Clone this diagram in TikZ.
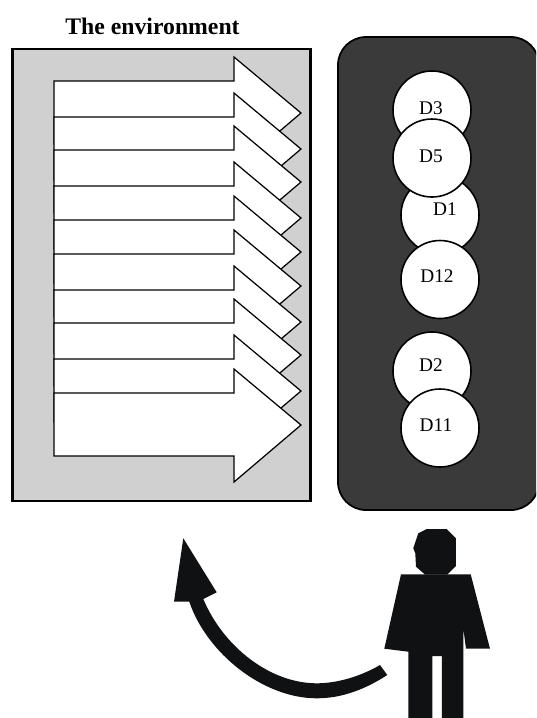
\documentclass[tikz,border=0pt]{standalone}
\usepackage{fontspec}
\setmainfont{Liberation Serif}
\definecolor{envgray}{HTML}{D0D0D0}
\definecolor{paneldark}{HTML}{3A3A3A}
\definecolor{figblack}{HTML}{101112}
\tikzset{
    disc/.style={circle,draw=black,fill=white,line width=0.45pt,minimum size=0.78cm,inner sep=0pt},
    disclabel/.style={inner sep=0pt,font=\fontsize{5.5}{6}\selectfont},
    envarrow/.style={draw=black,fill=white,line width=0.35pt,line join=miter}
}
\begin{document}
\begin{tikzpicture}[x=1cm,y=-1cm]
    \useasboundingbox (0,0) rectangle (5.36,7.18);

    \node[font=\fontsize{6.75}{7}\selectfont\bfseries,inner sep=0pt] (title) at (1.525,0.26) {The environment};
    \draw[fill=envgray,line width=0.6pt] (0.125,0.49) rectangle (3.105,5.01);

    % arrows, top one first
    \foreach \y in {1.13,1.49,1.82,2.18,2.52,2.86,3.22,3.55,3.91,4.25}
        \draw[envarrow] (0.54,\y-0.32) -- (2.34,\y-0.32) -- (2.34,\y-0.56) -- (3.01,\y)
            -- (2.34,\y+0.57) -- (2.34,\y+0.31) -- (0.54,\y+0.31) -- cycle;

    \begin{scope}
        \clip (0,0) rectangle (5.36,7.18);
        \draw[fill=paneldark,line width=0.5pt,rounded corners=0.28cm] (3.38,0.37) rectangle (5.39,5.10);
    \end{scope}

    \node[disc] (d1) at (4.40,2.15) {};
    \node[disc] (d3) at (4.32,1.10) {};
    \node[disc] (d5) at (4.32,1.58) {};
    \node[disc] (d12) at (4.40,2.795) {};
    \node[disc] (d2) at (4.32,3.71) {};
    \node[disc] (d11) at (4.40,4.28) {};

    \node[disclabel] at (4.45,2.09) {D1};
    \node[disclabel] at (4.31,1.08) {D3};
    \node[disclabel] at (4.31,1.56) {D5};
    \node[disclabel] at (4.37,2.76) {D12};
    \node[disclabel] at (4.31,3.65) {D2};
    \node[disclabel] at (4.36,4.25) {D11};

    % person
    \fill[figblack] (4.183,5.333) -- (4.267,5.29) -- (4.467,5.29) -- (4.56,5.383) -- (4.56,5.66)
        -- (4.473,5.745) -- (4.25,5.745) -- (4.16,5.667) -- (4.153,5.533) -- (4.133,5.483) -- cycle;
    \fill[figblack] (4.01,5.743) -- (4.707,5.743) -- (4.90,6.487) -- (4.66,6.487) -- (4.633,6.283)
        -- (4.633,7.18) -- (4.42,7.18) -- (4.42,6.56) -- (4.323,6.56) -- (4.323,7.18)
        -- (4.083,7.18) -- (4.083,6.517) -- (3.843,6.487) -- cycle;

    % curved arrow
    \fill[figblack] (1.833,5.383) -- (2.167,5.923) -- (2.033,5.99)
        .. controls (2.233,6.467) and (2.70,6.833) .. (3.167,6.833)
        .. controls (3.367,6.833) and (3.60,6.767) .. (3.80,6.65)
        -- (3.873,6.75)
        .. controls (3.667,6.883) and (3.433,6.983) .. (3.167,6.983)
        .. controls (2.633,6.983) and (2.067,6.533) .. (1.893,6.017)
        -- (1.74,6.017) -- cycle;
\end{tikzpicture}
\end{document}
